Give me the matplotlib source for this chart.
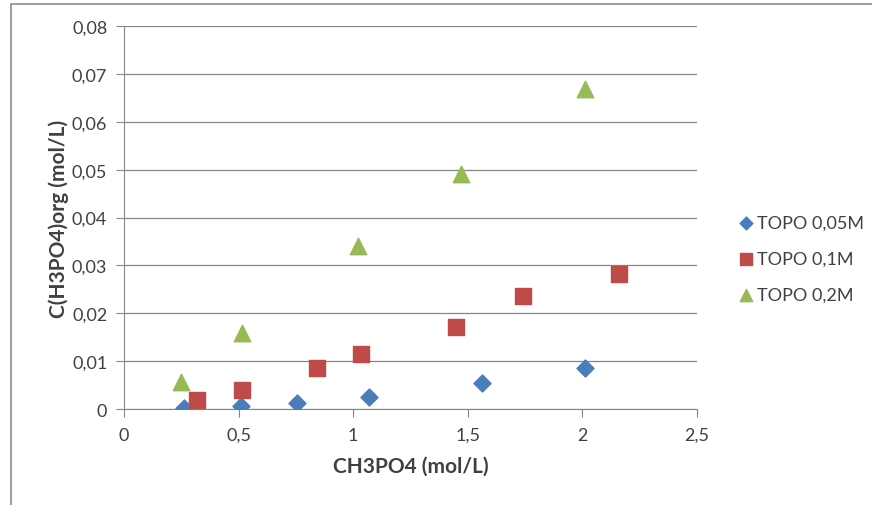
import matplotlib.pyplot as plt
from matplotlib.patches import Rectangle
from matplotlib.ticker import FuncFormatter

plt.rcParams['font.family'] = ['Lato', 'DejaVu Sans']

# TOPO 0,05M
x1 = [0.26, 0.51, 0.755, 1.07, 1.56, 2.01]
y1 = [0.0003, 0.0006, 0.0013, 0.0025, 0.0054, 0.0086]
# TOPO 0,1M
x2 = [0.32, 0.515, 0.84, 1.035, 1.45, 1.74, 2.16]
y2 = [0.0019, 0.0040, 0.0086, 0.0115, 0.0171, 0.0236, 0.0282]
# TOPO 0,2M
x3 = [0.25, 0.515, 1.02, 1.47, 2.01]
y3 = [0.0056, 0.0159, 0.0340, 0.0490, 0.0668]

labels = ['TOPO 0,05M', 'TOPO 0,1M', 'TOPO 0,2M']

fig = plt.figure(figsize=(8.72, 5.06), dpi=100)
ax = fig.add_axes([0.1422, 0.1897, 0.6571, 0.7569])

# frame around the chart area (top and left edges visible)
top = 1 - 4.5 / 506
fig.patches.append(Rectangle((11 / 872, -0.1), 1.2, top + 0.1, transform=fig.transFigure,
                             fill=False, edgecolor='#8c8c8c', linewidth=1.2))

ax.scatter(x1, y1, marker='D', s=75, color='#4a7ebb', label=labels[0], zorder=3)
ax.scatter(x2, y2, marker='s', s=130, color='#be4b48', label=labels[1], zorder=3)
ax.scatter(x3, y3, marker='^', s=140, color='#98b954', label=labels[2], zorder=3)

ax.set_xlim(0, 2.5)
ax.set_ylim(0, 0.08)
ax.set_xticks([0, 0.5, 1, 1.5, 2, 2.5])
ax.set_yticks([0, 0.01, 0.02, 0.03, 0.04, 0.05, 0.06, 0.07, 0.08])

def comma(v, pos):
    s = ('%g' % round(v, 4))
    return s.replace('.', ',')

ax.xaxis.set_major_formatter(FuncFormatter(comma))
ax.yaxis.set_major_formatter(FuncFormatter(comma))

ax.yaxis.grid(True, color='#868686', linewidth=0.9)
ax.set_axisbelow(True)
for side in ['top', 'right']:
    ax.spines[side].set_visible(False)
for side in ['left', 'bottom']:
    ax.spines[side].set_color('#868686')
ax.tick_params(axis='x', direction='out', length=6, color='#868686', labelsize=13,
               labelcolor='#404040', pad=7)
ax.tick_params(axis='y', direction='out', length=6, color='#868686', labelsize=13,
               labelcolor='#404040', pad=6)

ax.set_xlabel('CH3PO4 (mol/L)', fontsize=15, fontweight='bold', color='#404040', labelpad=9)
ax.set_ylabel('C(H3PO4)org (mol/L)', fontsize=15, fontweight='bold', color='#404040', labelpad=2)

fig.legend(loc='center left', bbox_to_anchor=(0.825, 0.487), frameon=False, fontsize=13,
           labelspacing=1.12, handletextpad=0.0, handlelength=1.2, scatterpoints=1,
           markerscale=0.75, labelcolor='#404040')

fig.savefig('out.png', dpi=100)
